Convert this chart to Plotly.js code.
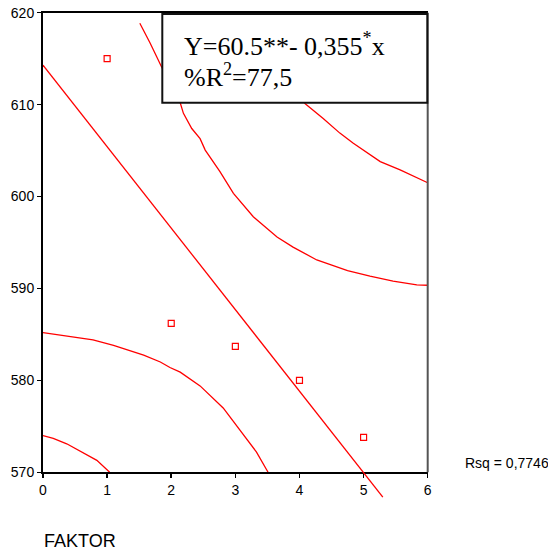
<!DOCTYPE html>
<html>
<head>
<meta charset="utf-8">
<script src="https://cdn.plot.ly/plotly-3.0.1.min.js"></script>
<style>html,body{margin:0;padding:0;background:#fff;}#chart{width:548px;height:557px;}</style>
</head>
<body>
<div id="chart"></div>
<script>
// Observed values
var factor = [1, 2, 3, 4, 5];
var observed = [615.0, 586.2, 583.7, 580.0, 573.8];

// Fitted regression line (end points)
var fitX = [0, 5.3];
var fitY = [614.3, 567.3];

// Upper inner band
var upInX = [1.51, 1.67, 1.85, 2.0, 2.14, 2.19, 2.32, 2.45, 2.53, 2.76, 2.97, 3.28, 3.65, 3.90, 4.27, 4.53, 4.75, 5.10, 5.46, 5.83, 6.0];
var upInY = [618.85, 616.7, 614.1, 612.2, 610.2, 609.05, 607.4, 606.3, 605.05, 602.7, 600.35, 597.8, 595.6, 594.5, 593.1, 592.45, 591.95, 591.35, 590.8, 590.4, 590.35];

// Upper outer band
var upOutX = [3.4, 3.7, 4.09, 4.37, 4.63, 4.84, 5.26, 5.57, 6.0];
var upOutY = [616.0, 613.3, 610.1, 608.5, 606.9, 605.8, 603.8, 602.9, 601.5];

// Lower inner band
var loInX = [0, 0.37, 0.78, 1.10, 1.57, 1.83, 1.98, 2.14, 2.45, 2.81, 3.12, 3.33, 3.51];
var loInY = [585.2, 584.8, 584.4, 583.8, 582.75, 582.0, 581.4, 580.9, 579.4, 577.0, 574.2, 572.2, 570.0];

// Lower outer band
var loOutX = [0, 0.16, 0.37, 0.58, 0.84, 1.04];
var loOutY = [574.0, 573.7, 573.1, 572.3, 571.3, 570.0];

var xTicks = [0, 1, 2, 3, 4, 5, 6];
var yTicks = [570, 580, 590, 600, 610, 620];

var RED = '#ff0000';
var lineStyle = {color: RED, width: 1.3};

var traces = [
  {x: upInX, y: upInY, mode: 'lines', line: lineStyle, hoverinfo: 'skip'},
  {x: upOutX, y: upOutY, mode: 'lines', line: lineStyle, hoverinfo: 'skip'},
  {x: loInX, y: loInY, mode: 'lines', line: lineStyle, hoverinfo: 'skip'},
  {x: loOutX, y: loOutY, mode: 'lines', line: lineStyle, hoverinfo: 'skip'},
  {x: fitX, y: fitY, mode: 'lines', line: lineStyle, xaxis: 'x2', yaxis: 'y2', hoverinfo: 'skip'},
  {x: factor, y: observed, mode: 'markers',
   marker: {symbol: 'square-open', size: 6, color: RED, line: {color: RED, width: 1.2}}}
];

var W = 548, H = 557;
var pxL = 43, pxR = 427.7, pxT = 12.7, pxB = 472.3;
var xDom = [pxL / W, pxR / W];
var yDom = [(H - pxB) / H, (H - pxT) / H];
// extended overlay axis with the same scale, reaching the bottom of the page
var perPx = 50 / (pxB - pxT);
var y2min = 570 - (H - pxB) * perPx;

var tickFont = {family: 'Liberation Sans, Arial, sans-serif', size: 14, color: '#000'};

var layout = {
  width: W, height: H,
  margin: {l: 0, r: 0, t: 0, b: 0},
  paper_bgcolor: '#fff',
  plot_bgcolor: 'rgba(0,0,0,0)',
  showlegend: false,
  xaxis: {
    domain: xDom, range: [0, 6], tickvals: xTicks, ticktext: xTicks.map(String),
    ticks: 'outside', ticklen: 4, tickwidth: 1.5, tickcolor: '#000',
    showline: true, linecolor: '#000', linewidth: 2, mirror: true,
    showgrid: false, zeroline: false, tickfont: tickFont, anchor: 'y'
  },
  yaxis: {
    domain: yDom, range: [570, 620], tickvals: yTicks, ticktext: yTicks.map(String),
    ticks: 'outside', ticklen: 4, tickwidth: 1.5, tickcolor: '#000',
    showline: true, linecolor: '#000', linewidth: 2,
    showgrid: false, zeroline: false, tickfont: tickFont, anchor: 'x'
  },
  xaxis2: {domain: xDom, range: [0, 6], visible: false, anchor: 'y2', showgrid: false, zeroline: false},
  yaxis2: {domain: [0, yDom[1]], range: [y2min, 620], visible: false, anchor: 'x2', showgrid: false, zeroline: false},
  shapes: [
    {type: 'line', xref: 'paper', yref: 'paper', x0: xDom[1], x1: xDom[1], y0: yDom[0], y1: yDom[1],
     line: {color: '#555', width: 2}, layer: 'above'},
    {type: 'rect', xref: 'paper', yref: 'paper', x0: 162.3 / W, x1: 427.3 / W,
     y0: (H - 102.7) / H, y1: (H - 14) / H,
     fillcolor: '#fff', line: {color: '#111', width: 2}, layer: 'above'}
  ],
  annotations: [
    {xref: 'paper', yref: 'paper', x: 182 / W, y: (H - 45) / H, xanchor: 'left', yanchor: 'middle',
     text: 'Y=60.5**- 0,355<sup>*</sup>x', showarrow: false,
     font: {family: 'Liberation Serif, Times New Roman, serif', size: 26, color: '#000'}},
    {xref: 'paper', yref: 'paper', x: 182 / W, y: (H - 75) / H, xanchor: 'left', yanchor: 'middle',
     text: '%R<sup>2</sup>=77,5', showarrow: false,
     font: {family: 'Liberation Serif, Times New Roman, serif', size: 26, color: '#000'}},
    {xref: 'paper', yref: 'paper', x: 41.7 / W, y: (H - 540.7) / H, xanchor: 'left', yanchor: 'middle',
     text: 'FAKTOR', showarrow: false,
     font: {family: 'Liberation Sans, Arial, sans-serif', size: 18, color: '#000'}},
    {xref: 'paper', yref: 'paper', x: 463 / W, y: (H - 463.3) / H, xanchor: 'left', yanchor: 'middle',
     text: 'Rsq = 0,7746', showarrow: false,
     font: {family: 'Liberation Sans, Arial, sans-serif', size: 14, color: '#000'}}
  ]
};

Plotly.newPlot('chart', traces, layout, {displayModeBar: false, staticPlot: true});
</script>
</body>
</html>
